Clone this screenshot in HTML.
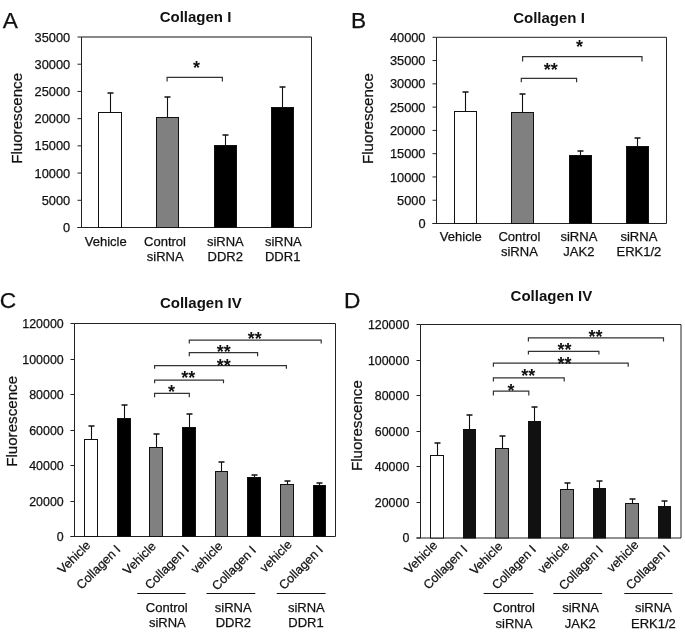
<!DOCTYPE html>
<html><head><meta charset="utf-8"><title>Collagen figure</title>
<style>
html,body{margin:0;padding:0;background:#fff;width:685px;height:637px;overflow:hidden}
svg{display:block;font-family:"Liberation Sans", sans-serif;will-change:transform}
</style></head><body>
<svg width="685" height="637" viewBox="0 0 685 637">
<rect width="685" height="637" fill="#fff"/>
<text x="2.8" y="27.8" font-size="22.7" text-anchor="start" font-weight="normal" fill="#111" stroke="#111" stroke-width="0.25" >A</text>
<text x="195.5" y="21.6" font-size="15" text-anchor="middle" font-weight="bold" fill="#111" >Collagen I</text>
<text x="0" y="0" font-size="15.15" text-anchor="middle" font-weight="normal" fill="#111" stroke="#111" stroke-width="0.25" transform="translate(22.0,118.4) rotate(-90)">Fluorescence</text>
<line x1="81.5" y1="37" x2="311.5" y2="37" stroke="#111" stroke-width="1"/>
<line x1="311.5" y1="37" x2="311.5" y2="227.5" stroke="#222" stroke-width="1"/>
<line x1="81.5" y1="37" x2="81.5" y2="227.5" stroke="#222" stroke-width="1"/>
<line x1="77.5" y1="227.5" x2="311.5" y2="227.5" stroke="#222" stroke-width="1"/>
<line x1="77.5" y1="227.5" x2="81.5" y2="227.5" stroke="#222" stroke-width="1"/>
<text x="70.2" y="232.108" font-size="12.8" text-anchor="end" font-weight="normal" fill="#111" stroke="#111" stroke-width="0.25" >0</text>
<line x1="77.5" y1="200.28571428571428" x2="81.5" y2="200.28571428571428" stroke="#222" stroke-width="1"/>
<text x="70.2" y="204.89371428571428" font-size="12.8" text-anchor="end" font-weight="normal" fill="#111" stroke="#111" stroke-width="0.25" >5000</text>
<line x1="77.5" y1="173.07142857142856" x2="81.5" y2="173.07142857142856" stroke="#222" stroke-width="1"/>
<text x="70.2" y="177.67942857142856" font-size="12.8" text-anchor="end" font-weight="normal" fill="#111" stroke="#111" stroke-width="0.25" >10000</text>
<line x1="77.5" y1="145.85714285714286" x2="81.5" y2="145.85714285714286" stroke="#222" stroke-width="1"/>
<text x="70.2" y="150.46514285714287" font-size="12.8" text-anchor="end" font-weight="normal" fill="#111" stroke="#111" stroke-width="0.25" >15000</text>
<line x1="77.5" y1="118.64285714285714" x2="81.5" y2="118.64285714285714" stroke="#222" stroke-width="1"/>
<text x="70.2" y="123.25085714285714" font-size="12.8" text-anchor="end" font-weight="normal" fill="#111" stroke="#111" stroke-width="0.25" >20000</text>
<line x1="77.5" y1="91.42857142857142" x2="81.5" y2="91.42857142857142" stroke="#222" stroke-width="1"/>
<text x="70.2" y="96.03657142857142" font-size="12.8" text-anchor="end" font-weight="normal" fill="#111" stroke="#111" stroke-width="0.25" >25000</text>
<line x1="77.5" y1="64.21428571428572" x2="81.5" y2="64.21428571428572" stroke="#222" stroke-width="1"/>
<text x="70.2" y="68.82228571428573" font-size="12.8" text-anchor="end" font-weight="normal" fill="#111" stroke="#111" stroke-width="0.25" >30000</text>
<line x1="77.5" y1="37.0" x2="81.5" y2="37.0" stroke="#222" stroke-width="1"/>
<text x="70.2" y="41.608" font-size="12.8" text-anchor="end" font-weight="normal" fill="#111" stroke="#111" stroke-width="0.25" >35000</text>
<line x1="110.5" y1="93" x2="110.5" y2="112.5" stroke="#111" stroke-width="1.1"/>
<line x1="107.5" y1="93" x2="113.5" y2="93" stroke="#111" stroke-width="1.5"/>
<rect x="98.5" y="112.5" width="23.0" height="115.0" fill="#fff" stroke="#111" stroke-width="1"/>
<line x1="167.5" y1="97" x2="167.5" y2="117.5" stroke="#111" stroke-width="1.1"/>
<line x1="164.5" y1="97" x2="170.5" y2="97" stroke="#111" stroke-width="1.5"/>
<rect x="156.5" y="117.5" width="22.0" height="110.0" fill="#808080" stroke="#111" stroke-width="1"/>
<line x1="225.5" y1="135" x2="225.5" y2="145.5" stroke="#111" stroke-width="1.1"/>
<line x1="222.5" y1="135" x2="228.5" y2="135" stroke="#111" stroke-width="1.5"/>
<rect x="214.5" y="145.5" width="22.0" height="82.0" fill="#000" stroke="#111" stroke-width="1"/>
<line x1="282.5" y1="87" x2="282.5" y2="107.5" stroke="#111" stroke-width="1.1"/>
<line x1="279.5" y1="87" x2="285.5" y2="87" stroke="#111" stroke-width="1.5"/>
<rect x="271.5" y="107.5" width="22.0" height="120.0" fill="#000" stroke="#111" stroke-width="1"/>
<path d="M167.1 81.5 V77.3 H222.4 V81.5" fill="none" stroke="#333" stroke-width="1.2"/>
<text x="196.6" y="74.1" font-size="18" text-anchor="middle" font-weight="bold" fill="#111" >*</text>
<text x="105.7" y="246.1" font-size="13" text-anchor="middle" font-weight="normal" fill="#111" stroke="#111" stroke-width="0.25" >Vehicle</text>
<text x="165" y="246.1" font-size="13" text-anchor="middle" font-weight="normal" fill="#111" stroke="#111" stroke-width="0.25" >Control</text>
<text x="225.3" y="246.1" font-size="13" text-anchor="middle" font-weight="normal" fill="#111" stroke="#111" stroke-width="0.25" >siRNA</text>
<text x="283.3" y="246.1" font-size="13" text-anchor="middle" font-weight="normal" fill="#111" stroke="#111" stroke-width="0.25" >siRNA</text>
<text x="165.2" y="261.2" font-size="13" text-anchor="middle" font-weight="normal" fill="#111" stroke="#111" stroke-width="0.25" >siRNA</text>
<text x="225.3" y="261.2" font-size="13" text-anchor="middle" font-weight="normal" fill="#111" stroke="#111" stroke-width="0.25" >DDR2</text>
<text x="282.7" y="261.2" font-size="13" text-anchor="middle" font-weight="normal" fill="#111" stroke="#111" stroke-width="0.25" >DDR1</text>
<text x="351" y="27.9" font-size="22.7" text-anchor="start" font-weight="normal" fill="#111" stroke="#111" stroke-width="0.25" >B</text>
<text x="549" y="22.6" font-size="15" text-anchor="middle" font-weight="bold" fill="#111" >Collagen I</text>
<text x="0" y="0" font-size="15.15" text-anchor="middle" font-weight="normal" fill="#111" stroke="#111" stroke-width="0.25" transform="translate(372.9,118.6) rotate(-90)">Fluorescence</text>
<line x1="436.5" y1="37.3" x2="666.5" y2="37.3" stroke="#222" stroke-width="1"/>
<line x1="666.5" y1="37.3" x2="666.5" y2="223.5" stroke="#222" stroke-width="1"/>
<line x1="436.5" y1="37.3" x2="436.5" y2="223.5" stroke="#222" stroke-width="1"/>
<line x1="432.5" y1="223.5" x2="666.5" y2="223.5" stroke="#222" stroke-width="1"/>
<line x1="432.5" y1="223.5" x2="436.5" y2="223.5" stroke="#222" stroke-width="1"/>
<text x="425.5" y="228.108" font-size="12.8" text-anchor="end" font-weight="normal" fill="#111" stroke="#111" stroke-width="0.25" >0</text>
<line x1="432.5" y1="200.225" x2="436.5" y2="200.225" stroke="#222" stroke-width="1"/>
<text x="425.5" y="204.833" font-size="12.8" text-anchor="end" font-weight="normal" fill="#111" stroke="#111" stroke-width="0.25" >5000</text>
<line x1="432.5" y1="176.95" x2="436.5" y2="176.95" stroke="#222" stroke-width="1"/>
<text x="425.5" y="181.558" font-size="12.8" text-anchor="end" font-weight="normal" fill="#111" stroke="#111" stroke-width="0.25" >10000</text>
<line x1="432.5" y1="153.675" x2="436.5" y2="153.675" stroke="#222" stroke-width="1"/>
<text x="425.5" y="158.28300000000002" font-size="12.8" text-anchor="end" font-weight="normal" fill="#111" stroke="#111" stroke-width="0.25" >15000</text>
<line x1="432.5" y1="130.4" x2="436.5" y2="130.4" stroke="#222" stroke-width="1"/>
<text x="425.5" y="135.008" font-size="12.8" text-anchor="end" font-weight="normal" fill="#111" stroke="#111" stroke-width="0.25" >20000</text>
<line x1="432.5" y1="107.125" x2="436.5" y2="107.125" stroke="#222" stroke-width="1"/>
<text x="425.5" y="111.733" font-size="12.8" text-anchor="end" font-weight="normal" fill="#111" stroke="#111" stroke-width="0.25" >25000</text>
<line x1="432.5" y1="83.85000000000002" x2="436.5" y2="83.85000000000002" stroke="#222" stroke-width="1"/>
<text x="425.5" y="88.45800000000003" font-size="12.8" text-anchor="end" font-weight="normal" fill="#111" stroke="#111" stroke-width="0.25" >30000</text>
<line x1="432.5" y1="60.57500000000002" x2="436.5" y2="60.57500000000002" stroke="#222" stroke-width="1"/>
<text x="425.5" y="65.18300000000002" font-size="12.8" text-anchor="end" font-weight="normal" fill="#111" stroke="#111" stroke-width="0.25" >35000</text>
<line x1="432.5" y1="37.30000000000001" x2="436.5" y2="37.30000000000001" stroke="#222" stroke-width="1"/>
<text x="425.5" y="41.90800000000001" font-size="12.8" text-anchor="end" font-weight="normal" fill="#111" stroke="#111" stroke-width="0.25" >40000</text>
<line x1="465.5" y1="92" x2="465.5" y2="111.5" stroke="#111" stroke-width="1.1"/>
<line x1="462.5" y1="92" x2="468.5" y2="92" stroke="#111" stroke-width="1.5"/>
<rect x="454.5" y="111.5" width="22.0" height="112.0" fill="#fff" stroke="#111" stroke-width="1"/>
<line x1="522.5" y1="94" x2="522.5" y2="112.5" stroke="#111" stroke-width="1.1"/>
<line x1="519.5" y1="94" x2="525.5" y2="94" stroke="#111" stroke-width="1.5"/>
<rect x="511.5" y="112.5" width="22.0" height="111.0" fill="#808080" stroke="#111" stroke-width="1"/>
<line x1="580.5" y1="151" x2="580.5" y2="155.5" stroke="#111" stroke-width="1.1"/>
<line x1="577.5" y1="151" x2="583.5" y2="151" stroke="#111" stroke-width="1.5"/>
<rect x="569.5" y="155.5" width="22.0" height="68.0" fill="#000" stroke="#111" stroke-width="1"/>
<line x1="637.5" y1="138" x2="637.5" y2="146.5" stroke="#111" stroke-width="1.1"/>
<line x1="634.5" y1="138" x2="640.5" y2="138" stroke="#111" stroke-width="1.5"/>
<rect x="626.5" y="146.5" width="22.0" height="77.0" fill="#000" stroke="#111" stroke-width="1"/>
<path d="M522.6 61.6 V56.6 H642 V61.6" fill="none" stroke="#333" stroke-width="1.2"/>
<text x="579.6" y="53.2" font-size="18" text-anchor="middle" font-weight="bold" fill="#111" >*</text>
<path d="M521.3 82.3 V78.4 H576.6 V82.3" fill="none" stroke="#333" stroke-width="1.2"/>
<text x="550.7" y="75.5" font-size="18" text-anchor="middle" font-weight="bold" fill="#111" >**</text>
<text x="460.8" y="241.1" font-size="13" text-anchor="middle" font-weight="normal" fill="#111" stroke="#111" stroke-width="0.25" >Vehicle</text>
<text x="519.4" y="241.1" font-size="13" text-anchor="middle" font-weight="normal" fill="#111" stroke="#111" stroke-width="0.25" >Control</text>
<text x="578.9" y="241.1" font-size="13" text-anchor="middle" font-weight="normal" fill="#111" stroke="#111" stroke-width="0.25" >siRNA</text>
<text x="638.9" y="241.1" font-size="13" text-anchor="middle" font-weight="normal" fill="#111" stroke="#111" stroke-width="0.25" >siRNA</text>
<text x="519.4" y="256.3" font-size="13" text-anchor="middle" font-weight="normal" fill="#111" stroke="#111" stroke-width="0.25" >siRNA</text>
<text x="578.9" y="256.3" font-size="13" text-anchor="middle" font-weight="normal" fill="#111" stroke="#111" stroke-width="0.25" >JAK2</text>
<text x="638.9" y="256.3" font-size="13" text-anchor="middle" font-weight="normal" fill="#111" stroke="#111" stroke-width="0.25" >ERK1/2</text>
<text x="-0.2" y="308.3" font-size="22.7" text-anchor="start" font-weight="normal" fill="#111" stroke="#111" stroke-width="0.25" >C</text>
<text x="200.8" y="308.2" font-size="15" text-anchor="middle" font-weight="bold" fill="#111" >Collagen IV</text>
<text x="0" y="0" font-size="15.15" text-anchor="middle" font-weight="normal" fill="#111" stroke="#111" stroke-width="0.25" transform="translate(17.0,421.4) rotate(-90)">Fluorescence</text>
<line x1="74.5" y1="323.5" x2="335.5" y2="323.5" stroke="#222" stroke-width="1"/>
<line x1="335.5" y1="323.5" x2="335.5" y2="536.5" stroke="#222" stroke-width="1"/>
<line x1="74.5" y1="323.5" x2="74.5" y2="536.5" stroke="#222" stroke-width="1"/>
<line x1="70.5" y1="536.5" x2="335.5" y2="536.5" stroke="#222" stroke-width="1"/>
<line x1="70.5" y1="536.5" x2="74.5" y2="536.5" stroke="#222" stroke-width="1"/>
<text x="63.7" y="540.964" font-size="12.4" text-anchor="end" font-weight="normal" fill="#111" stroke="#111" stroke-width="0.25" >0</text>
<line x1="70.5" y1="501.5" x2="74.5" y2="501.5" stroke="#222" stroke-width="1"/>
<text x="63.7" y="505.964" font-size="12.4" text-anchor="end" font-weight="normal" fill="#111" stroke="#111" stroke-width="0.25" >20000</text>
<line x1="70.5" y1="465.5" x2="74.5" y2="465.5" stroke="#222" stroke-width="1"/>
<text x="63.7" y="469.964" font-size="12.4" text-anchor="end" font-weight="normal" fill="#111" stroke="#111" stroke-width="0.25" >40000</text>
<line x1="70.5" y1="430.5" x2="74.5" y2="430.5" stroke="#222" stroke-width="1"/>
<text x="63.7" y="434.964" font-size="12.4" text-anchor="end" font-weight="normal" fill="#111" stroke="#111" stroke-width="0.25" >60000</text>
<line x1="70.5" y1="394.5" x2="74.5" y2="394.5" stroke="#222" stroke-width="1"/>
<text x="63.7" y="398.964" font-size="12.4" text-anchor="end" font-weight="normal" fill="#111" stroke="#111" stroke-width="0.25" >80000</text>
<line x1="70.5" y1="359.5" x2="74.5" y2="359.5" stroke="#222" stroke-width="1"/>
<text x="63.7" y="363.964" font-size="12.4" text-anchor="end" font-weight="normal" fill="#111" stroke="#111" stroke-width="0.25" >100000</text>
<line x1="70.5" y1="323.5" x2="74.5" y2="323.5" stroke="#222" stroke-width="1"/>
<text x="63.7" y="327.964" font-size="12.4" text-anchor="end" font-weight="normal" fill="#111" stroke="#111" stroke-width="0.25" >120000</text>
<line x1="91.5" y1="426" x2="91.5" y2="439.5" stroke="#111" stroke-width="1.1"/>
<line x1="88.5" y1="426" x2="94.5" y2="426" stroke="#111" stroke-width="1.5"/>
<rect x="84.5" y="439.5" width="13.0" height="97.0" fill="#fff" stroke="#111" stroke-width="1"/>
<line x1="124.5" y1="405" x2="124.5" y2="418.5" stroke="#111" stroke-width="1.1"/>
<line x1="121.5" y1="405" x2="127.5" y2="405" stroke="#111" stroke-width="1.5"/>
<rect x="117.5" y="418.5" width="13.0" height="118.0" fill="#000" stroke="#111" stroke-width="1"/>
<line x1="156.5" y1="434" x2="156.5" y2="447.5" stroke="#111" stroke-width="1.1"/>
<line x1="153.5" y1="434" x2="159.5" y2="434" stroke="#111" stroke-width="1.5"/>
<rect x="149.5" y="447.5" width="13.0" height="89.0" fill="#808080" stroke="#111" stroke-width="1"/>
<line x1="189.5" y1="414" x2="189.5" y2="427.5" stroke="#111" stroke-width="1.1"/>
<line x1="186.5" y1="414" x2="192.5" y2="414" stroke="#111" stroke-width="1.5"/>
<rect x="182.5" y="427.5" width="13.0" height="109.0" fill="#000" stroke="#111" stroke-width="1"/>
<line x1="221.5" y1="462" x2="221.5" y2="471.5" stroke="#111" stroke-width="1.1"/>
<line x1="218.5" y1="462" x2="224.5" y2="462" stroke="#111" stroke-width="1.5"/>
<rect x="215.5" y="471.5" width="12.0" height="65.0" fill="#808080" stroke="#111" stroke-width="1"/>
<line x1="254.5" y1="475" x2="254.5" y2="477.5" stroke="#111" stroke-width="1.1"/>
<line x1="251.5" y1="475" x2="257.5" y2="475" stroke="#111" stroke-width="1.5"/>
<rect x="247.5" y="477.5" width="13.0" height="59.0" fill="#000" stroke="#111" stroke-width="1"/>
<line x1="287.5" y1="481" x2="287.5" y2="484.5" stroke="#111" stroke-width="1.1"/>
<line x1="284.5" y1="481" x2="290.5" y2="481" stroke="#111" stroke-width="1.5"/>
<rect x="280.5" y="484.5" width="13.0" height="52.0" fill="#808080" stroke="#111" stroke-width="1"/>
<line x1="319.5" y1="483" x2="319.5" y2="485.5" stroke="#111" stroke-width="1.1"/>
<line x1="316.5" y1="483" x2="322.5" y2="483" stroke="#111" stroke-width="1.5"/>
<rect x="313.5" y="485.5" width="12.0" height="51.0" fill="#000" stroke="#111" stroke-width="1"/>
<path d="M189.3 343.4 V340.2 H321.2 V343.4" fill="none" stroke="#333" stroke-width="1.2"/>
<text x="254.8" y="345.3" font-size="18" text-anchor="middle" font-weight="bold" fill="#111" >**</text>
<path d="M189.3 356.2 V352.7 H257.6 V356.2" fill="none" stroke="#333" stroke-width="1.2"/>
<text x="223.8" y="358" font-size="18" text-anchor="middle" font-weight="bold" fill="#111" >**</text>
<path d="M154.6 368.8 V365.6 H286.4 V368.8" fill="none" stroke="#333" stroke-width="1.2"/>
<text x="223.8" y="371.8" font-size="18" text-anchor="middle" font-weight="bold" fill="#111" >**</text>
<path d="M154.6 383.3 V380.2 H223.5 V383.3" fill="none" stroke="#333" stroke-width="1.2"/>
<text x="188.3" y="383.6" font-size="18" text-anchor="middle" font-weight="bold" fill="#111" >**</text>
<path d="M154.6 397.2 V393.3 H189.3 V397.2" fill="none" stroke="#333" stroke-width="1.2"/>
<text x="171.4" y="397.6" font-size="18" text-anchor="middle" font-weight="bold" fill="#111" >*</text>
<text x="91.3" y="546.1" font-size="12.5" text-anchor="end" font-weight="normal" fill="#111" stroke="#111" stroke-width="0.25" transform="rotate(-45 91.3 546.1)">Vehicle</text>
<text x="121.32" y="550.18" font-size="12.5" text-anchor="end" font-weight="normal" fill="#111" stroke="#111" stroke-width="0.25" transform="rotate(-45 121.32 550.18)">Collagen I</text>
<text x="156.6" y="547.1" font-size="12.5" text-anchor="end" font-weight="normal" fill="#111" stroke="#111" stroke-width="0.25" transform="rotate(-45 156.6 547.1)">Vehicle</text>
<text x="189.82" y="550.28" font-size="12.5" text-anchor="end" font-weight="normal" fill="#111" stroke="#111" stroke-width="0.25" transform="rotate(-45 189.82 550.28)">Collagen I</text>
<text x="223.5" y="546.8" font-size="12.5" text-anchor="end" font-weight="normal" fill="#111" stroke="#111" stroke-width="0.25" transform="rotate(-45 223.5 546.8)">vehicle</text>
<text x="256.82" y="551.08" font-size="12.5" text-anchor="end" font-weight="normal" fill="#111" stroke="#111" stroke-width="0.25" transform="rotate(-45 256.82 551.08)">Collagen I</text>
<text x="292.6" y="545.4" font-size="12.5" text-anchor="end" font-weight="normal" fill="#111" stroke="#111" stroke-width="0.25" transform="rotate(-45 292.6 545.4)">vehicle</text>
<text x="323.82" y="550.48" font-size="12.5" text-anchor="end" font-weight="normal" fill="#111" stroke="#111" stroke-width="0.25" transform="rotate(-45 323.82 550.48)">Collagen I</text>
<line x1="137.2" y1="593.5" x2="185.6" y2="593.5" stroke="#111" stroke-width="1.1"/>
<line x1="206.5" y1="593.5" x2="255.3" y2="593.5" stroke="#111" stroke-width="1.1"/>
<line x1="276.7" y1="593.5" x2="325.6" y2="593.5" stroke="#111" stroke-width="1.1"/>
<text x="166.8" y="612" font-size="13" text-anchor="middle" font-weight="normal" fill="#111" stroke="#111" stroke-width="0.25" >Control</text>
<text x="233.2" y="612" font-size="13" text-anchor="middle" font-weight="normal" fill="#111" stroke="#111" stroke-width="0.25" >siRNA</text>
<text x="306.3" y="612" font-size="13" text-anchor="middle" font-weight="normal" fill="#111" stroke="#111" stroke-width="0.25" >siRNA</text>
<text x="167.3" y="627.2" font-size="13" text-anchor="middle" font-weight="normal" fill="#111" stroke="#111" stroke-width="0.25" >siRNA</text>
<text x="233.4" y="627.2" font-size="13" text-anchor="middle" font-weight="normal" fill="#111" stroke="#111" stroke-width="0.25" >DDR2</text>
<text x="306" y="627.2" font-size="13" text-anchor="middle" font-weight="normal" fill="#111" stroke="#111" stroke-width="0.25" >DDR1</text>
<text x="344" y="308.4" font-size="22.7" text-anchor="start" font-weight="normal" fill="#111" stroke="#111" stroke-width="0.25" >D</text>
<text x="551.4" y="300.8" font-size="15" text-anchor="middle" font-weight="bold" fill="#111" >Collagen IV</text>
<text x="0" y="0" font-size="15.15" text-anchor="middle" font-weight="normal" fill="#111" stroke="#111" stroke-width="0.25" transform="translate(361.8,425.65) rotate(-90)">Fluorescence</text>
<line x1="420.5" y1="324.5" x2="681.0" y2="324.5" stroke="#222" stroke-width="1"/>
<line x1="681.0" y1="324.5" x2="681.0" y2="538" stroke="#222" stroke-width="1"/>
<line x1="420.5" y1="324.5" x2="420.5" y2="538" stroke="#222" stroke-width="1"/>
<line x1="416.5" y1="538" x2="681.0" y2="538" stroke="#222" stroke-width="1"/>
<line x1="416.5" y1="538.0" x2="420.5" y2="538.0" stroke="#222" stroke-width="1"/>
<text x="409.3" y="542.464" font-size="12.4" text-anchor="end" font-weight="normal" fill="#111" stroke="#111" stroke-width="0.25" >0</text>
<line x1="416.5" y1="502.5" x2="420.5" y2="502.5" stroke="#222" stroke-width="1"/>
<text x="409.3" y="506.964" font-size="12.4" text-anchor="end" font-weight="normal" fill="#111" stroke="#111" stroke-width="0.25" >20000</text>
<line x1="416.5" y1="466.5" x2="420.5" y2="466.5" stroke="#222" stroke-width="1"/>
<text x="409.3" y="470.964" font-size="12.4" text-anchor="end" font-weight="normal" fill="#111" stroke="#111" stroke-width="0.25" >40000</text>
<line x1="416.5" y1="431.5" x2="420.5" y2="431.5" stroke="#222" stroke-width="1"/>
<text x="409.3" y="435.964" font-size="12.4" text-anchor="end" font-weight="normal" fill="#111" stroke="#111" stroke-width="0.25" >60000</text>
<line x1="416.5" y1="395.5" x2="420.5" y2="395.5" stroke="#222" stroke-width="1"/>
<text x="409.3" y="399.964" font-size="12.4" text-anchor="end" font-weight="normal" fill="#111" stroke="#111" stroke-width="0.25" >80000</text>
<line x1="416.5" y1="360.5" x2="420.5" y2="360.5" stroke="#222" stroke-width="1"/>
<text x="409.3" y="364.964" font-size="12.4" text-anchor="end" font-weight="normal" fill="#111" stroke="#111" stroke-width="0.25" >100000</text>
<line x1="416.5" y1="324.5" x2="420.5" y2="324.5" stroke="#222" stroke-width="1"/>
<text x="409.3" y="328.964" font-size="12.4" text-anchor="end" font-weight="normal" fill="#111" stroke="#111" stroke-width="0.25" >120000</text>
<line x1="437.5" y1="443" x2="437.5" y2="455.5" stroke="#111" stroke-width="1.1"/>
<line x1="434.5" y1="443" x2="440.5" y2="443" stroke="#111" stroke-width="1.5"/>
<rect x="430.5" y="455.5" width="13.0" height="82.5" fill="#fff" stroke="#111" stroke-width="1"/>
<line x1="469.5" y1="415" x2="469.5" y2="429.5" stroke="#111" stroke-width="1.1"/>
<line x1="466.5" y1="415" x2="472.5" y2="415" stroke="#111" stroke-width="1.5"/>
<rect x="463.5" y="429.5" width="12.0" height="108.5" fill="#111" stroke="#111" stroke-width="1"/>
<line x1="502.5" y1="436" x2="502.5" y2="448.5" stroke="#111" stroke-width="1.1"/>
<line x1="499.5" y1="436" x2="505.5" y2="436" stroke="#111" stroke-width="1.5"/>
<rect x="495.5" y="448.5" width="13.0" height="89.5" fill="#808080" stroke="#111" stroke-width="1"/>
<line x1="534.5" y1="407" x2="534.5" y2="421.5" stroke="#111" stroke-width="1.1"/>
<line x1="531.5" y1="407" x2="537.5" y2="407" stroke="#111" stroke-width="1.5"/>
<rect x="528.5" y="421.5" width="12.0" height="116.5" fill="#111" stroke="#111" stroke-width="1"/>
<line x1="567.5" y1="483" x2="567.5" y2="489.5" stroke="#111" stroke-width="1.1"/>
<line x1="564.5" y1="483" x2="570.5" y2="483" stroke="#111" stroke-width="1.5"/>
<rect x="560.5" y="489.5" width="13.0" height="48.5" fill="#808080" stroke="#111" stroke-width="1"/>
<line x1="599.5" y1="481" x2="599.5" y2="488.5" stroke="#111" stroke-width="1.1"/>
<line x1="596.5" y1="481" x2="602.5" y2="481" stroke="#111" stroke-width="1.5"/>
<rect x="593.5" y="488.5" width="12.0" height="49.5" fill="#111" stroke="#111" stroke-width="1"/>
<line x1="632.5" y1="499" x2="632.5" y2="503.5" stroke="#111" stroke-width="1.1"/>
<line x1="629.5" y1="499" x2="635.5" y2="499" stroke="#111" stroke-width="1.5"/>
<rect x="625.5" y="503.5" width="13.0" height="34.5" fill="#808080" stroke="#111" stroke-width="1"/>
<line x1="664.5" y1="501" x2="664.5" y2="506.5" stroke="#111" stroke-width="1.1"/>
<line x1="661.5" y1="501" x2="667.5" y2="501" stroke="#111" stroke-width="1.5"/>
<rect x="658.5" y="506.5" width="12.0" height="31.5" fill="#111" stroke="#111" stroke-width="1"/>
<path d="M528.4 341.5 V337.8 H663.5 V341.5" fill="none" stroke="#333" stroke-width="1.2"/>
<text x="595.5" y="342.6" font-size="18" text-anchor="middle" font-weight="bold" fill="#111" >**</text>
<path d="M528.4 354.4 V351.3 H598.9 V354.4" fill="none" stroke="#333" stroke-width="1.2"/>
<text x="564.4" y="355.7" font-size="18" text-anchor="middle" font-weight="bold" fill="#111" >**</text>
<path d="M493.4 366.7 V363.2 H628.2 V366.7" fill="none" stroke="#333" stroke-width="1.2"/>
<text x="564.4" y="370.2" font-size="18" text-anchor="middle" font-weight="bold" fill="#111" >**</text>
<path d="M493.4 381.6 V377.9 H564.2 V381.6" fill="none" stroke="#333" stroke-width="1.2"/>
<text x="528.2" y="381.8" font-size="18" text-anchor="middle" font-weight="bold" fill="#111" >**</text>
<path d="M493.4 395.4 V391.2 H528.8 V395.4" fill="none" stroke="#333" stroke-width="1.2"/>
<text x="510.9" y="396.6" font-size="18" text-anchor="middle" font-weight="bold" fill="#111" >*</text>
<text x="438.1" y="546.1" font-size="12.5" text-anchor="end" font-weight="normal" fill="#111" stroke="#111" stroke-width="0.25" transform="rotate(-45 438.1 546.1)">Vehicle</text>
<text x="468.22" y="550.18" font-size="12.5" text-anchor="end" font-weight="normal" fill="#111" stroke="#111" stroke-width="0.25" transform="rotate(-45 468.22 550.18)">Collagen I</text>
<text x="503.4" y="547.1" font-size="12.5" text-anchor="end" font-weight="normal" fill="#111" stroke="#111" stroke-width="0.25" transform="rotate(-45 503.4 547.1)">Vehicle</text>
<text x="536.82" y="550.28" font-size="12.5" text-anchor="end" font-weight="normal" fill="#111" stroke="#111" stroke-width="0.25" transform="rotate(-45 536.82 550.28)">Collagen I</text>
<text x="570.5" y="546.9" font-size="12.5" text-anchor="end" font-weight="normal" fill="#111" stroke="#111" stroke-width="0.25" transform="rotate(-45 570.5 546.9)">vehicle</text>
<text x="603.72" y="550.88" font-size="12.5" text-anchor="end" font-weight="normal" fill="#111" stroke="#111" stroke-width="0.25" transform="rotate(-45 603.72 550.88)">Collagen I</text>
<text x="639.5" y="545.5" font-size="12.5" text-anchor="end" font-weight="normal" fill="#111" stroke="#111" stroke-width="0.25" transform="rotate(-45 639.5 545.5)">vehicle</text>
<text x="670.72" y="550.48" font-size="12.5" text-anchor="end" font-weight="normal" fill="#111" stroke="#111" stroke-width="0.25" transform="rotate(-45 670.72 550.48)">Collagen I</text>
<line x1="483.6" y1="593.5" x2="533.3" y2="593.5" stroke="#111" stroke-width="1.1"/>
<line x1="553.3" y1="593.5" x2="602.1" y2="593.5" stroke="#111" stroke-width="1.1"/>
<line x1="624.3" y1="593.5" x2="672.5" y2="593.5" stroke="#111" stroke-width="1.1"/>
<text x="514" y="612" font-size="13" text-anchor="middle" font-weight="normal" fill="#111" stroke="#111" stroke-width="0.25" >Control</text>
<text x="580.6" y="612" font-size="13" text-anchor="middle" font-weight="normal" fill="#111" stroke="#111" stroke-width="0.25" >siRNA</text>
<text x="653.3" y="612" font-size="13" text-anchor="middle" font-weight="normal" fill="#111" stroke="#111" stroke-width="0.25" >siRNA</text>
<text x="514" y="627.8" font-size="13" text-anchor="middle" font-weight="normal" fill="#111" stroke="#111" stroke-width="0.25" >siRNA</text>
<text x="580.3" y="627.8" font-size="13" text-anchor="middle" font-weight="normal" fill="#111" stroke="#111" stroke-width="0.25" >JAK2</text>
<text x="653.4" y="627.8" font-size="13" text-anchor="middle" font-weight="normal" fill="#111" stroke="#111" stroke-width="0.25" >ERK1/2</text>
</svg>
</body></html>
